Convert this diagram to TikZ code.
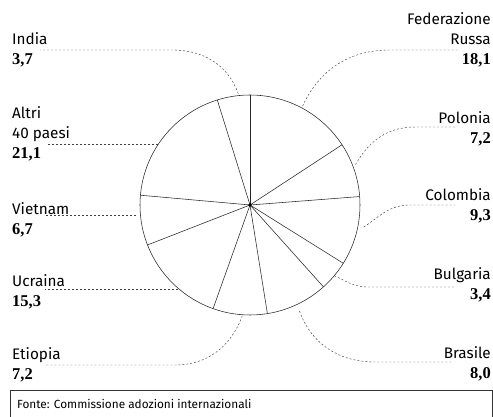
\documentclass[tikz,border=0pt]{standalone}
\usepackage{fontspec}
\setmainfont{Fira Sans}
\newfontfamily\numfont{Liberation Serif}
\usepackage{tikz}
\usetikzlibrary{calc}

\newcommand{\pct}[1]{{\numfont\bfseries\fontsize{16.5}{20}\selectfont #1}}

\begin{document}
\begin{tikzpicture}[x=1pt, y=1pt]
% Define styles
\tikzstyle{leftlab} = [anchor=north west, align=left, inner sep=0pt, font=\fontsize{15.3}{20}\selectfont]
\tikzstyle{rightlab} = [anchor=north east, align=right, inner sep=0pt, font=\fontsize{15.3}{20}\selectfont]
\tikzstyle{leader} = [dash pattern=on 2pt off 2pt, line width=0.45pt, black!75]
\tikzstyle{slice} = [line width=0.55pt, black!85]

\useasboundingbox (0,0) rectangle (493,417);

% Pie
\coordinate (c) at (250,212);
\draw[slice] (c) circle (110);
\foreach \a in {90,33.2,4.4,-32,-48.1,-80.9,-109.6,-158.7,174.9,107.3}
  \draw[slice] (c) -- ++(\a:110);
\fill (c) circle (1.8);

% Labels right
\node[rightlab] (russa) at (491,405) {Federazione\\Russa\\\pct{18,1}};
\node[rightlab] (polonia) at (491,306) {Polonia\\\pct{7,2}};
\node[rightlab] (colombia) at (491,229) {Colombia\\\pct{9,3}};
\node[rightlab] (bulgaria) at (491,150) {Bulgaria\\\pct{3,4}};
\node[rightlab] (brasile) at (491,71) {Brasile\\\pct{8,0}};

% Labels left
\node[leftlab] (india) at (12,385) {India\\\pct{3,7}};
\node[leftlab] (altri) at (12,311) {Altri\\40 paesi\\\pct{21,1}};
\node[leftlab] (vietnam) at (12,215) {Vietnam\\\pct{6,7}};
\node[leftlab] (ucraina) at (12,143) {Ucraina\\\pct{15,3}};
\node[leftlab] (etiopia) at (12,70) {Etiopia\\\pct{7,2}};

% Leader points
\coordinate (ru-s) at ($(c)+(62:112)$);   \coordinate (ru-e) at (458,367);
\coordinate (po-s) at ($(c)+(21:113)$);   \coordinate (po-e) at (456,290);
\coordinate (co-s) at ($(c)+(-11:116)$);  \coordinate (co-e) at (455,212);
\coordinate (bu-s) at ($(c)+(-40:110)$);  \coordinate (bu-e) at (456,130);
\coordinate (br-s) at ($(c)+(-65:117)$);  \coordinate (br-e) at (451,55);
\coordinate (in-s) at ($(c)+(96:112)$);   \coordinate (in-e) at (40,367);
\coordinate (al-s) at (158,273);          \coordinate (al-e) at (48,273);
\coordinate (vi-s) at (136,202);          \coordinate (vi-e) at (44,202);
\coordinate (uc-s) at (178,128);          \coordinate (uc-e) at (45,128);
\coordinate (et-s) at ($(c)+(-94:111)$);  \coordinate (et-e) at (44,52);

% Leaders
\draw[leader] (ru-s) to[out=65,in=180] (390,367) -- (ru-e);
\draw[leader] (po-s) to[out=60,in=180] (415,290) -- (po-e);
\draw[leader] (co-s) to[out=35,in=180] (410,212) -- (co-e);
\draw[leader] (bu-s) to[out=-25,in=180] (368,130) -- (bu-e);
\draw[leader] (br-s) to[out=-70,in=180] (375,55) -- (br-e);
\draw[leader] (in-s) to[out=110,in=0] (172,367) -- (in-e);
\draw[leader] (al-s) -- (al-e);
\draw[leader] (vi-s) -- (vi-e);
\draw[leader] (uc-s) -- (uc-e);
\draw[leader] (et-s) to[out=-110,in=0] (175,52) -- (et-e);

% Source
\draw[line width=0.5pt, black!80] (10,-1) -- (10,27) -- (492,27) -- (492,-1);
\node[anchor=west, inner sep=0pt, font=\fontsize{11.8}{13}\selectfont] (fonte) at (17,13) {Fonte: Commissione adozioni internazionali};

\end{tikzpicture}
\end{document}
